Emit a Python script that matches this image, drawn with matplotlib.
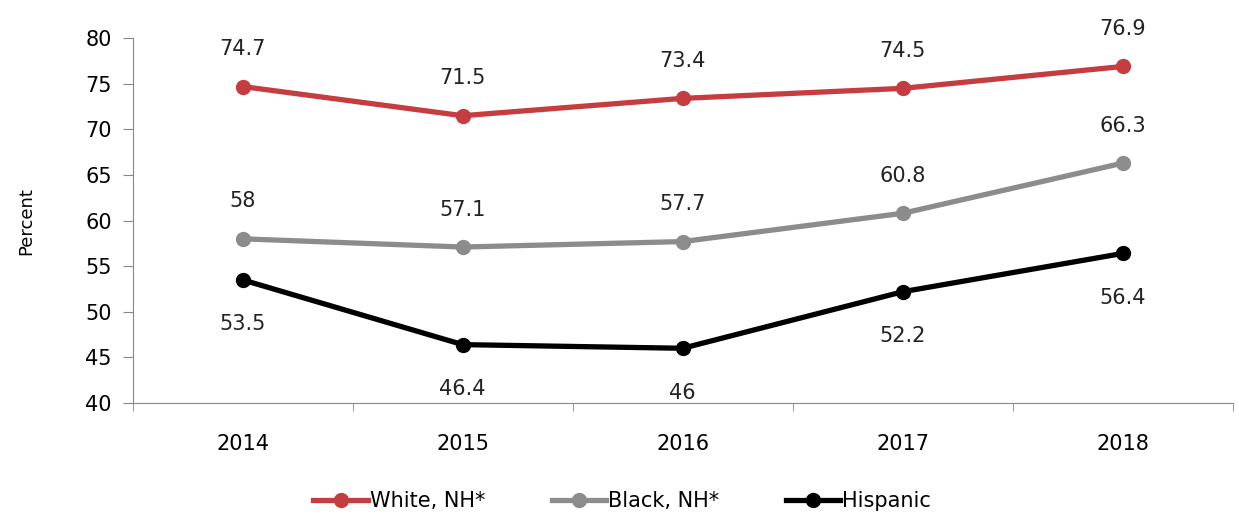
import matplotlib.pyplot as plt

years = ['2014', '2015', '2016', '2017', '2018']
white = [74.7, 71.5, 73.4, 74.5, 76.9]
black = [58, 57.1, 57.7, 60.8, 66.3]
hispanic = [53.5, 46.4, 46, 52.2, 56.4]

series = [
    ('White, NH*', white, '#C63D40', 'above'),
    ('Black, NH*', black, '#8C8C8C', 'above'),
    ('Hispanic', hispanic, '#000000', 'below'),
]

fig = plt.figure(figsize=(12.39, 5.16), dpi=100)
ax = fig.add_axes([0.107, 0.219, 0.888, 0.707])

x = list(range(len(years)))
for name, vals, col, pos in series:
    ax.plot(x, vals, color=col, lw=3.8, marker='o', ms=10, label=name)
    for xi, v in zip(x, vals):
        txt = '{:g}'.format(v)
        dy = 27 if pos == 'above' else -32
        ax.annotate(txt, (xi, v), xytext=(0, dy), textcoords='offset points',
                    ha='center', va='center', fontsize=15, color='#222222')

ax.set_xlim(-0.5, len(years) - 0.5)
ax.set_ylim(40, 80)
ax.set_yticks(range(40, 81, 5))
ax.set_xticks(x)
ax.set_xticklabels(years)
ax.set_xticks([i - 0.5 for i in range(len(years) + 1)], minor=True)
ax.tick_params(axis='x', which='major', length=0, pad=22, labelsize=15)
ax.tick_params(axis='x', which='minor', length=6, color='#888888')
ax.tick_params(axis='y', length=7, color='#888888', labelsize=15, pad=8)

for s in ['top', 'right']:
    ax.spines[s].set_visible(False)
ax.spines['left'].set_color('#888888')
ax.spines['bottom'].set_color('#888888')

ax.set_ylabel('Percent', fontsize=13, labelpad=36)

ax.legend(loc='upper center', bbox_to_anchor=(0.445, -0.19), ncol=3, frameon=False,
          fontsize=15, handlelength=2.6, handletextpad=0.1, columnspacing=3.2)

fig.savefig('out.png', dpi=100)
